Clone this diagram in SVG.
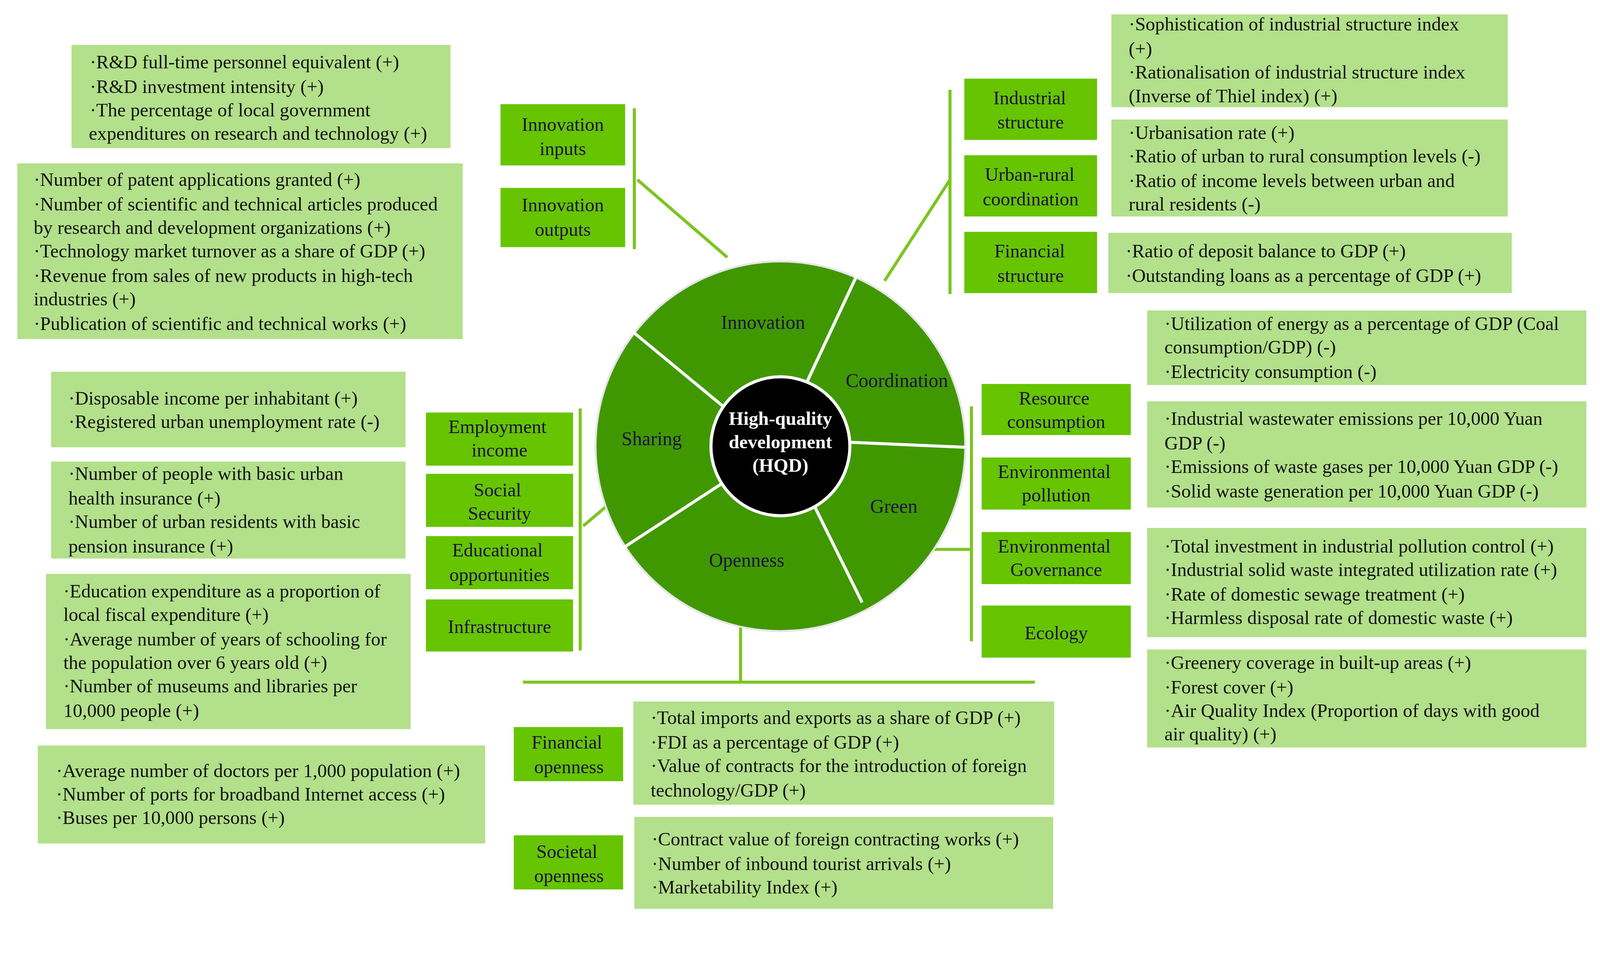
<svg xmlns="http://www.w3.org/2000/svg" width="4254" height="2443" viewBox="0 0 4254 2443">
<style>
.tb{fill:#b3e08a}
.cb{fill:#66c400}
.t{font-size:18.6px;fill:#111}
.c{font-size:18.6px;fill:#1a1040;text-anchor:middle}
.s{font-size:19px;fill:#1a1040;text-anchor:middle}
.ln{stroke:#7cc520;stroke-width:3;fill:none}
</style>
<rect width="4254" height="2443" fill="#fff"/>
<g transform="scale(2.615)" font-family="Liberation Serif, serif">
<g id="connectors" class="ln">
<line x1="621" y1="106" x2="621" y2="244"/>
<line x1="624" y1="176" x2="712" y2="252"/>
<line x1="930" y1="88" x2="930" y2="288"/>
<line x1="930" y1="176" x2="866" y2="275"/>
<line x1="951" y1="398" x2="951" y2="628"/>
<line x1="910" y1="538" x2="951" y2="538"/>
<line x1="568" y1="400" x2="568" y2="637"/>
<line x1="571" y1="515" x2="597" y2="493"/>
<line x1="725" y1="610" x2="725" y2="668"/>
<line x1="512" y1="668" x2="1013" y2="668"/>
</g>
<g id="wheel">
<circle cx="764" cy="437" r="181" fill="#409800" stroke="#e6e6e6" stroke-width="2"/>
<g stroke="#fff" stroke-width="3">
<line x1="790" y1="374" x2="841" y2="265"/>
<line x1="830" y1="433" x2="945" y2="438"/>
<line x1="797" y1="495" x2="844" y2="590"/>
<line x1="706" y1="474" x2="597" y2="545"/>
<line x1="708" y1="398" x2="616" y2="322"/>
</g>
<circle cx="764" cy="437" r="68" fill="#000" stroke="#fff" stroke-width="3"/>
<text class="s" x="747" y="322">Innovation</text>
<text class="s" x="878" y="379">Coordination</text>
<text class="s" x="638" y="436">Sharing</text>
<text class="s" x="875" y="502">Green</text>
<text class="s" x="731" y="555">Openness</text>
<g font-size="18.6" font-weight="bold" fill="#fff" text-anchor="middle">
<text x="764" y="416">High-quality</text>
<text x="764" y="439">development</text>
<text x="764" y="462">(HQD)</text>
</g>
</g>
<g id="innov-inputs"><rect class="cb" x="490" y="102" width="122" height="60"/><text class="c" x="551" y="128">Innovation</text><text class="c" x="551" y="152">inputs</text></g>
<g id="innov-outputs"><rect class="cb" x="490" y="184" width="122" height="58"/><text class="c" x="551" y="207">Innovation</text><text class="c" x="551" y="231">outputs</text></g>
<g id="box-rd"><rect class="tb" x="70" y="44" width="371" height="101"/>
<text class="t" x="88" y="67">·R&amp;D full-time personnel equivalent (+)</text>
<text class="t" x="88" y="91">·R&amp;D investment intensity (+)</text>
<text class="t" x="88" y="114">·The percentage of local government</text>
<text class="t" x="87" y="137">expenditures on research and technology (+)</text></g>
<g id="box-patent"><rect class="tb" x="17" y="160" width="436" height="172"/>
<text class="t" x="33" y="182">·Number of patent applications granted (+)</text>
<text class="t" x="33" y="206">·Number of scientific and technical articles produced</text>
<text class="t" x="33" y="229">by research and development organizations (+)</text>
<text class="t" x="33" y="252">·Technology market turnover as a share of GDP (+)</text>
<text class="t" x="33" y="276">·Revenue from sales of new products in high-tech</text>
<text class="t" x="33" y="299">industries (+)</text>
<text class="t" x="33" y="323">·Publication of scientific and technical works (+)</text></g>
<g id="industrial"><rect class="cb" x="944" y="77" width="130" height="60"/><text class="c" x="1008" y="102">Industrial</text><text class="c" x="1009" y="126">structure</text></g>
<g id="urbanrural"><rect class="cb" x="944" y="152" width="130" height="60"/><text class="c" x="1008" y="177">Urban-rural</text><text class="c" x="1009" y="201">coordination</text></g>
<g id="financial"><rect class="cb" x="944" y="227" width="130" height="60"/><text class="c" x="1008" y="252">Financial</text><text class="c" x="1009" y="276">structure</text></g>
<g id="box-soph"><rect class="tb" x="1088" y="14" width="388" height="91"/>
<text class="t" x="1105" y="30">·Sophistication of industrial structure index</text>
<text class="t" x="1105" y="54">(+)</text>
<text class="t" x="1105" y="77">·Rationalisation of industrial structure index</text>
<text class="t" x="1105" y="100">(Inverse of Thiel index) (+)</text></g>
<g id="box-urban"><rect class="tb" x="1088" y="117" width="388" height="95"/>
<text class="t" x="1105" y="136">·Urbanisation rate (+)</text>
<text class="t" x="1105" y="159">·Ratio of urban to rural consumption levels (-)</text>
<text class="t" x="1105" y="183">·Ratio of income levels between urban and</text>
<text class="t" x="1105" y="206">rural residents (-)</text></g>
<g id="box-deposit"><rect class="tb" x="1085" y="228" width="395" height="59"/>
<text class="t" x="1102" y="252">·Ratio of deposit balance to GDP (+)</text>
<text class="t" x="1102" y="276">·Outstanding loans as a percentage of GDP (+)</text></g>
<g id="resource"><rect class="cb" x="961" y="376" width="146" height="50"/><text class="c" x="1032" y="396">Resource</text><text class="c" x="1034" y="419">consumption</text></g>
<g id="envpoll"><rect class="cb" x="961" y="448" width="146" height="51"/><text class="c" x="1032" y="468">Environmental</text><text class="c" x="1034" y="491">pollution</text></g>
<g id="envgov"><rect class="cb" x="961" y="521" width="146" height="51"/><text class="c" x="1032" y="541">Environmental</text><text class="c" x="1034" y="564">Governance</text></g>
<g id="ecology"><rect class="cb" x="961" y="593" width="146" height="51"/><text class="c" x="1034" y="626">Ecology</text></g>
<g id="box-energy"><rect class="tb" x="1123" y="304" width="430" height="73"/>
<text class="t" x="1140" y="323">·Utilization of energy as a percentage of GDP (Coal</text>
<text class="t" x="1140" y="346">consumption/GDP) (-)</text>
<text class="t" x="1140" y="370">·Electricity consumption (-)</text></g>
<g id="box-waste"><rect class="tb" x="1123" y="393" width="430" height="104"/>
<text class="t" x="1140" y="416">·Industrial wastewater emissions per 10,000 Yuan</text>
<text class="t" x="1140" y="440">GDP (-)</text>
<text class="t" x="1140" y="463">·Emissions of waste gases per 10,000 Yuan GDP (-)</text>
<text class="t" x="1140" y="487">·Solid waste generation per 10,000 Yuan GDP (-)</text></g>
<g id="box-invest"><rect class="tb" x="1123" y="517" width="430" height="107"/>
<text class="t" x="1140" y="541">·Total investment in industrial pollution control (+)</text>
<text class="t" x="1140" y="564">·Industrial solid waste integrated utilization rate (+)</text>
<text class="t" x="1140" y="588">·Rate of domestic sewage treatment (+)</text>
<text class="t" x="1140" y="611">·Harmless disposal rate of domestic waste (+)</text></g>
<g id="box-green"><rect class="tb" x="1123" y="636" width="430" height="96"/>
<text class="t" x="1140" y="655">·Greenery coverage in built-up areas (+)</text>
<text class="t" x="1140" y="679">·Forest cover (+)</text>
<text class="t" x="1140" y="702">·Air Quality Index (Proportion of days with good</text>
<text class="t" x="1140" y="725">air quality) (+)</text></g>
<g id="employment"><rect class="cb" x="417" y="404" width="144" height="52"/><text class="c" x="487" y="424">Employment</text><text class="c" x="489" y="447">income</text></g>
<g id="social"><rect class="cb" x="417" y="464" width="144" height="52"/><text class="c" x="487" y="486">Social</text><text class="c" x="489" y="509">Security</text></g>
<g id="education"><rect class="cb" x="417" y="525" width="144" height="52"/><text class="c" x="487" y="545">Educational</text><text class="c" x="489" y="569">opportunities</text></g>
<g id="infra"><rect class="cb" x="417" y="587" width="144" height="51"/><text class="c" x="489" y="620">Infrastructure</text></g>
<g id="box-income"><rect class="tb" x="50" y="364" width="347" height="74"/>
<text class="t" x="67" y="396">·Disposable income per inhabitant (+)</text>
<text class="t" x="67" y="419">·Registered urban unemployment rate (-)</text></g>
<g id="box-health"><rect class="tb" x="50" y="452" width="347" height="95"/>
<text class="t" x="67" y="470">·Number of people with basic urban</text>
<text class="t" x="67" y="494">health insurance (+)</text>
<text class="t" x="67" y="517">·Number of urban residents with basic</text>
<text class="t" x="67" y="541">pension insurance (+)</text></g>
<g id="box-edu"><rect class="tb" x="45" y="562" width="357" height="152"/>
<text class="t" x="62" y="585">·Education expenditure as a proportion of</text>
<text class="t" x="62" y="608">local fiscal expenditure (+)</text>
<text class="t" x="62" y="632">·Average number of years of schooling for</text>
<text class="t" x="62" y="655">the population over 6 years old (+)</text>
<text class="t" x="62" y="678">·Number of museums and libraries per</text>
<text class="t" x="62" y="702">10,000 people (+)</text></g>
<g id="box-doctors"><rect class="tb" x="37" y="730" width="438" height="96"/>
<text class="t" x="55" y="761">·Average number of doctors per 1,000 population (+)</text>
<text class="t" x="55" y="784">·Number of ports for broadband Internet access (+)</text>
<text class="t" x="55" y="807">·Buses per 10,000 persons (+)</text></g>
<g id="finopen"><rect class="cb" x="503" y="712" width="107" height="53"/><text class="c" x="555" y="733">Financial</text><text class="c" x="557" y="757">openness</text></g>
<g id="socopen"><rect class="cb" x="503" y="818" width="107" height="53"/><text class="c" x="555" y="840">Societal</text><text class="c" x="557" y="864">openness</text></g>
<g id="box-trade"><rect class="tb" x="620" y="687" width="412" height="101"/>
<text class="t" x="637" y="709">·Total imports and exports as a share of GDP (+)</text>
<text class="t" x="637" y="733">·FDI as a percentage of GDP (+)</text>
<text class="t" x="637" y="756">·Value of contracts for the introduction of foreign</text>
<text class="t" x="637" y="780">technology/GDP (+)</text></g>
<g id="box-contract"><rect class="tb" x="621" y="800" width="410" height="90"/>
<text class="t" x="638" y="828">·Contract value of foreign contracting works (+)</text>
<text class="t" x="638" y="852">·Number of inbound tourist arrivals (+)</text>
<text class="t" x="638" y="875">·Marketability Index (+)</text></g>
</g>
</svg>
